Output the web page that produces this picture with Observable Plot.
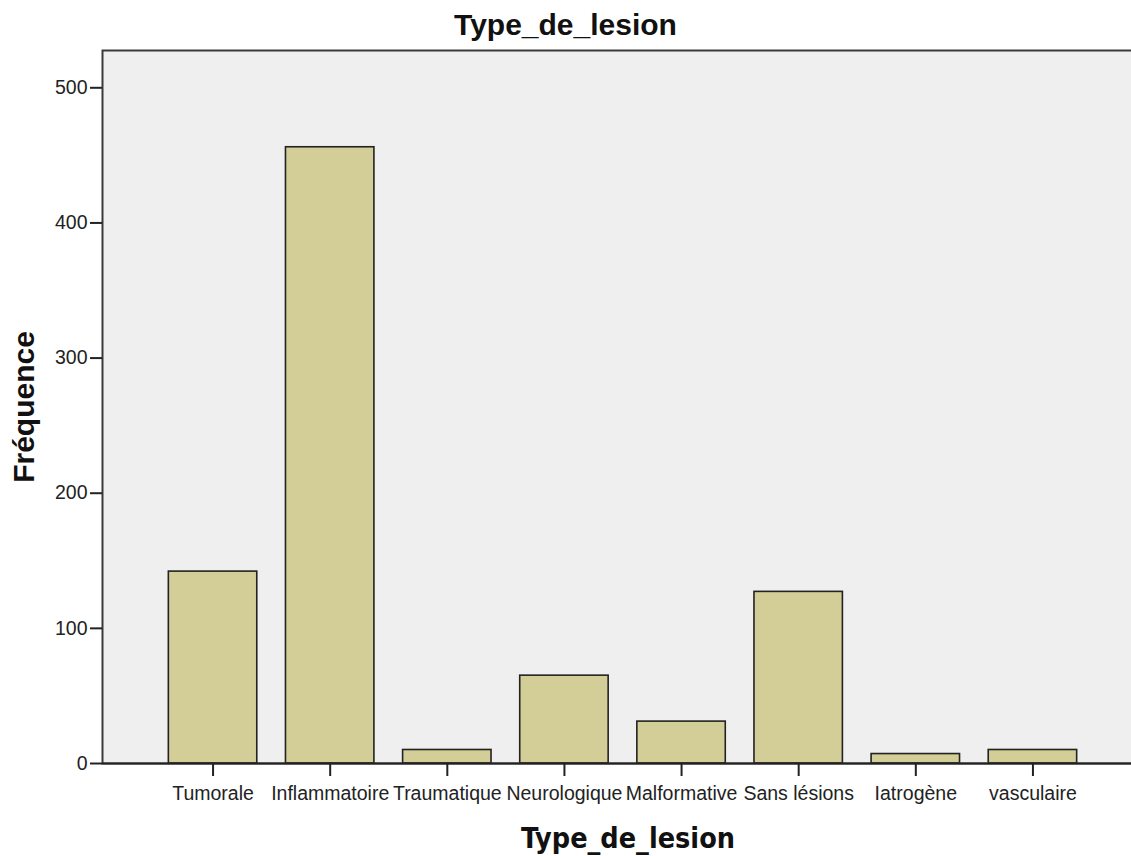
<!DOCTYPE html>
<html>
<head>
<meta charset="utf-8">
<script src="https://cdn.jsdelivr.net/npm/d3@7"></script>
<script src="https://cdn.jsdelivr.net/npm/@observablehq/plot@0.6"></script>
<style>
  html, body { margin: 0; padding: 0; background: #fff; }
  #title { width: 1131px; height: 49px; text-align: center; font: bold 30px "Liberation Sans", Arial, sans-serif; line-height: 49px; color: #111; }
  #chart svg { display: block; }
</style>
</head>
<body>
<div id="title">Type_de_lesion</div>
<div id="chart"></div>
<script>
const categories = ["Tumorale", "Inflammatoire", "Traumatique", "Neurologique", "Malformative", "Sans lésions", "Iatrogène", "vasculaire"];
const counts = [142, 456, 10, 65, 31, 127, 7, 10];
const yTicks = [0, 100, 200, 300, 400, 500];
const xLabel = "Type_de_lesion";
const yLabel = "Fréquence";
const yMax = 527.6;

const data = categories.map((c, i) => ({cat: c, count: counts[i]}));

const chart = Plot.plot({
  width: 1131,
  height: 807,
  marginLeft: 102,
  marginRight: 0,
  marginTop: 1,
  marginBottom: 93,
  style: {fontFamily: "'Liberation Sans', Arial, sans-serif", background: "transparent"},
  x: {domain: categories, range: [154, 1091], paddingInner: 0.245, paddingOuter: 0.1225, round: false},
  y: {domain: [0, yMax], nice: false},
  marks: [
    Plot.frame({fill: "#efefef", insetRight: -5}),
    Plot.barY(data, {x: "cat", y: "count", fill: "#d3ce97", stroke: "#222", strokeWidth: 1.6}),
    Plot.frame({stroke: "#3a3a3a", strokeWidth: 2, insetRight: -5}),
    Plot.ruleY([0], {stroke: "#222", strokeWidth: 2}),
    Plot.axisY({ticks: yTicks, tickSize: 12, tickPadding: 3, fontSize: 19.5, label: null, stroke: "#222", strokeWidth: 2, color: "#222"}),
    Plot.axisX({tickSize: 13, tickPadding: 10, fontSize: 19.5, label: null, stroke: "#222", strokeWidth: 2, color: "#222"}),
    Plot.text([xLabel], {frameAnchor: "bottom", textAnchor: "middle", lineAnchor: "bottom", dy: 84, dx: 11, fontSize: 28.5, fontWeight: "bold", fontFamily: "'Liberation Sans Narrow', 'Arial Narrow', 'DejaVu Sans Condensed', sans-serif", fill: "#111"}),
    Plot.text([yLabel], {frameAnchor: "left", textAnchor: "middle", lineAnchor: "bottom", rotate: -90, dx: -69, fontSize: 30, fontWeight: "bold", fill: "#111"})
  ]
});
document.getElementById("chart").appendChild(chart);
</script>
</body>
</html>
